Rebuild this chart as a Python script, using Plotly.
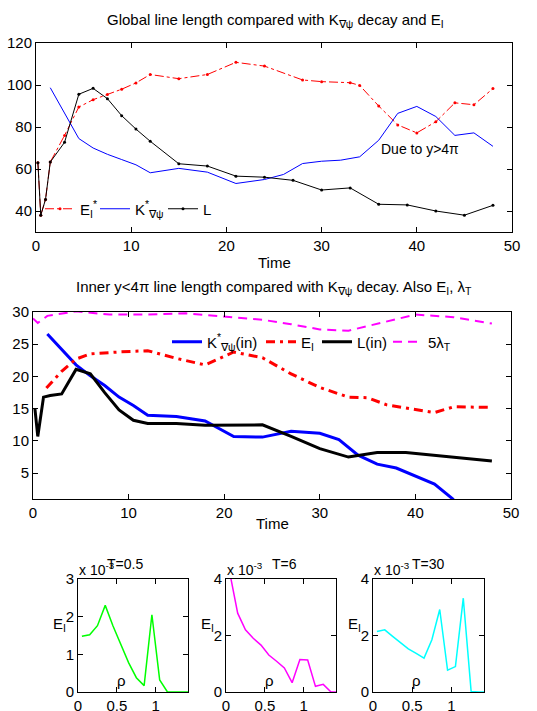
import plotly.graph_objects as go

W, H = 537, 711
FONT = "Liberation Sans, Arial, Helvetica, sans-serif"

# ---------------- Top panel data (global) ----------------
t_EIstar = [0.2, 0.5, 1.0, 1.5, 3.0, 4.5, 6.0, 7.5, 9.0, 10.5, 12, 15, 18, 21, 24, 28, 30, 33, 34, 36, 38, 40, 42, 44, 46, 48]
EIstar = [63, 38, 45.5, 63.3, 76, 89.5, 93, 95.5, 98, 101, 105, 103, 105, 110.8, 109, 102.4, 101.6, 101.1, 99.8, 90, 81, 77.2, 82.5, 91.5, 90.6, 98.3]

t_Kstar = [1.5, 3.75, 4.5, 6.0, 7.5, 9.0, 10.5, 12, 15, 18, 21, 24, 26, 28, 30, 32, 34, 36, 38, 40, 42, 44, 46, 48]
Kstar = [98.7, 80.5, 74.5, 70, 67, 64.5, 62, 58.2, 60.3, 58.5, 53.1, 55, 57.4, 62.6, 63.7, 64.2, 65.8, 73.7, 86.5, 89.8, 85, 76, 77.2, 70.8]

t_L = [0.2, 0.5, 1.0, 1.5, 3.0, 4.5, 6.0, 7.5, 9.0, 10.5, 12, 15, 18, 21, 24, 27, 30, 33, 36, 39, 42, 45, 48]
L = [63, 38, 45.5, 63.3, 72.7, 95.6, 98.4, 93.5, 85.4, 79, 73.2, 62.5, 61.4, 56.6, 56.1, 54.6, 50, 51, 43.2, 42.9, 40, 38, 42.7]

# ---------------- Middle panel data (inner) ----------------
t_Kin = [1.5, 3, 4.5, 6, 7.5, 9, 10.5, 12, 15, 18, 21, 24, 27, 30, 32, 34, 36, 38, 40, 42, 44]
Kin = [26.6, 24.2, 21.8, 20.1, 18.6, 16.8, 15.5, 14.0, 13.8, 13.1, 10.7, 10.6, 11.5, 11.2, 10.2, 7.8, 6.4, 5.8, 4.6, 3.3, 0.9]

t_EI = [1.4, 3, 4.5, 6, 9, 12, 15, 18, 21, 24, 27, 30, 33, 35, 37, 39, 42, 44, 48]
EI = [18.2, 20.8, 22.7, 23.5, 23.8, 24.0, 22.8, 21.8, 23.8, 22.9, 20.4, 18.3, 16.8, 16.7, 15.6, 15.1, 14.4, 15.3, 15.2]

t_Lin = [0.2, 0.5, 1.1, 1.8, 3, 4.5, 6, 7.5, 9, 10.5, 12, 15, 18, 21, 24, 27, 30, 33, 36, 39, 42, 45, 48]
Lin = [15, 10.7, 16.8, 17.05, 17.3, 21.1, 20.4, 17.5, 14.8, 13.2, 12.7, 12.7, 12.45, 12.5, 12.5, 10.7, 8.8, 7.5, 8.2, 8.2, 7.8, 7.3, 6.9]

t_lam = [0, 0.5, 1.5, 4.5, 8, 12, 16, 20, 24, 27, 30, 33, 36, 40, 44, 48]
lam5 = [29, 28.3, 29.4, 30.1, 29.6, 29.6, 29.8, 29.3, 28.8, 28.1, 27.3, 27.1, 28.2, 29.6, 29.2, 28.2]

# ---------------- Bottom panels data (E_I profiles, units 1e-3) ----------------
rho = [0.05, 0.15, 0.25, 0.35, 0.45, 0.55, 0.65, 0.75, 0.85, 0.95, 1.05, 1.15, 1.25, 1.35, 1.45]
EI_T05 = [1.48, 1.52, 1.76, 2.3, 1.75, 1.25, 0.78, 0.38, 0.17, 2.05, 0.32, 0.0, 0.0, 0.0, 0.0]
EI_T6 = [4.2, 2.79, 2.2, 1.9, 1.66, 1.31, 1.09, 0.85, 0.33, 1.15, 1.13, 0.2, 0.27, 0.0, 0.0]
EI_T30 = [2.14, 2.2, 1.97, 1.74, 1.53, 1.37, 1.2, 1.85, 2.92, 0.77, 0.9, 3.32, 0.02, 0.0, 0.0]

top_xticks = [0, 10, 20, 30, 40, 50]
top_yticks = [40, 60, 80, 100, 120]
mid_yticks = [5, 10, 15, 20, 25, 30]
bot_xticks = [0, 0.5, 1]
panel_titles = ["T=0.5", "T=6", "T=30"]


def px_x(a, b):
    return [a / W, b / W]


def px_y(top, bottom):
    return [1 - bottom / H, 1 - top / H]


fig = go.Figure()

# top panel traces
fig.add_trace(go.Scatter(x=t_EIstar, y=EIstar, mode="lines+markers", name="E<sub>I</sub><sup>*</sup>",
                         line=dict(color="#ff0000", width=1, dash="dashdot"), marker=dict(size=3, color="#ff0000"),
                         xaxis="x", yaxis="y", legend="legend"))
fig.add_trace(go.Scatter(x=t_Kstar, y=Kstar, mode="lines", name="K<sup>*</sup><sub>∇ψ</sub>",
                         line=dict(color="#0000ff", width=1), xaxis="x", yaxis="y", legend="legend2"))
fig.add_trace(go.Scatter(x=t_L, y=L, mode="lines+markers", name="L",
                         line=dict(color="#000000", width=1), marker=dict(size=3, color="#000000"),
                         xaxis="x", yaxis="y", legend="legend3"))

# middle panel traces
fig.add_trace(go.Scatter(x=t_Kin, y=Kin, mode="lines", name="K<sup>*</sup><sub>∇ψ</sub>(in)",
                         line=dict(color="#0000ff", width=3), xaxis="x2", yaxis="y2", legend="legend4"))
fig.add_trace(go.Scatter(x=t_EI, y=EI, mode="lines", name="E<sub>I</sub>",
                         line=dict(color="#ff0000", width=3, dash="9px,5px,3px,5px"), xaxis="x2", yaxis="y2", legend="legend5"))
fig.add_trace(go.Scatter(x=t_Lin, y=Lin, mode="lines", name="L(in)",
                         line=dict(color="#000000", width=3), xaxis="x2", yaxis="y2", legend="legend6"))
fig.add_trace(go.Scatter(x=t_lam, y=lam5, mode="lines", name="5λ<sub>T</sub>",
                         line=dict(color="#ff00ff", width=2, dash="9px,6px"), xaxis="x2", yaxis="y2", legend="legend7"))

# bottom panels
for i, (vals, col) in enumerate([(EI_T05, "#00ff00"), (EI_T6, "#ff00ff"), (EI_T30, "#00ffff")]):
    fig.add_trace(go.Scatter(x=rho, y=vals, mode="lines", line=dict(color=col, width=1.5),
                             showlegend=False, xaxis=f"x{i+3}", yaxis=f"y{i+3}"))

axcommon = dict(showline=True, linecolor="black", linewidth=1, mirror="ticks", ticks="inside",
                ticklen=5, tickcolor="black", showgrid=False, zeroline=False, automargin=False,
                tickfont=dict(size=15, color="black", family=FONT))

layout = dict(
    width=W, height=H, margin=dict(l=0, r=0, t=0, b=0, autoexpand=False),
    paper_bgcolor="white", plot_bgcolor="white",
    font=dict(family=FONT, size=15, color="black"),
    xaxis=dict(domain=px_x(36, 512), range=[0, 50], tickvals=top_xticks, anchor="y", **axcommon),
    yaxis=dict(domain=px_y(43, 232), range=[30, 120], tickvals=top_yticks, anchor="x", **axcommon),
    xaxis2=dict(domain=px_x(33, 511), range=[0, 50], tickvals=top_xticks, anchor="y2", **axcommon),
    yaxis2=dict(domain=px_y(312, 499), range=[1, 30], tickvals=mid_yticks, anchor="x2", **axcommon),
)

# individual legends (line start pixel, y centre pixel)
leg_pos = {"legend": (50, 209), "legend2": (105, 209), "legend3": (173, 209),
           "legend4": (177, 342), "legend5": (271, 342), "legend6": (327, 342), "legend7": (398, 342)}
for k, (lx, ly) in leg_pos.items():
    layout[k] = dict(orientation="h", x=(lx - 10) / W, y=1 - ly / H, xanchor="left", yanchor="middle",
                     bgcolor="rgba(0,0,0,0)", font=dict(size=15), itemwidth=30)

bot_boxes = [(78, 188, [0, 3], [0, 1, 2, 3]), (226, 336, [0, 4], [0, 2, 4]), (373, 484, [0, 4], [0, 2, 4])]
for i, (a, b, yr, yt) in enumerate(bot_boxes):
    layout[f"xaxis{i+3}"] = dict(domain=px_x(a, b), range=[0, 1.414], tickvals=bot_xticks,
                                 ticktext=["0", "0.5", "1"], anchor=f"y{i+3}", **axcommon)
    layout[f"yaxis{i+3}"] = dict(domain=px_y(579, 692), range=yr, tickvals=yt, anchor=f"x{i+3}", **axcommon)
fig.update_layout(**layout)


def pann(text, x, y, size=15, xanchor="center"):
    return dict(text=text, x=x / W, y=1 - y / H, xref="paper", yref="paper", xanchor=xanchor,
                yanchor="middle", showarrow=False, font=dict(size=size))


ann = []
ann.append(pann("Global line length compared with K<sub>∇ψ</sub> decay and E<sub>I</sub>", 275, 20, 15))
ann.append(pann("Inner y<4π line length compared with K<sub>∇ψ</sub> decay. Also E<sub>I</sub>, λ<sub>T</sub>", 274, 287, 15))
ann.append(pann("Time", 274, 262))
ann.append(pann("Time", 272, 523))
ann.append(dict(text="Due to y>4π", x=36, y=69.6, xref="x", yref="y", xanchor="left", yanchor="middle",
                showarrow=False, font=dict(size=14)))

title_left = [105, 270, 410]
for i, (a, b, yr, yt) in enumerate(bot_boxes):
    ann.append(pann("x 10<sup>-3</sup>", a - 1, 569, 14, "left"))
    ann.append(pann(panel_titles[i], title_left[i], 564, 14, "left"))
    ann.append(pann("E<sub>I</sub>", a - 10, 624, 15, "right"))
    ann.append(dict(text="ρ", x=0.56, y=0.1 * yr[1], xref=f"x{i+3}", yref=f"y{i+3}", xanchor="center",
                    yanchor="middle", showarrow=False, font=dict(size=15)))
fig.update_layout(annotations=ann)

fig.write_html("out.html", config={"displayModeBar": False},
               post_script="document.body.style.margin='0';document.body.style.overflow='hidden';")
